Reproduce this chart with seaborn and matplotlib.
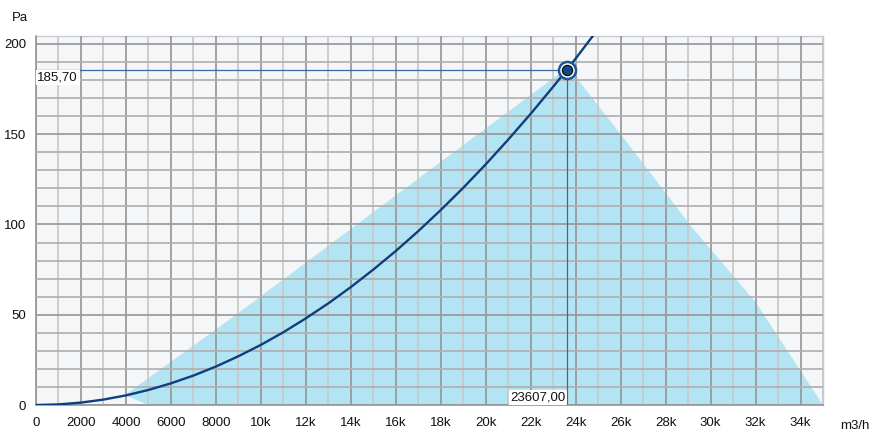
import matplotlib
matplotlib.use('Agg')
import matplotlib.pyplot as plt
from matplotlib.ticker import MultipleLocator, FixedLocator
import seaborn as sns
import pandas as pd

# system curve (m3/h, Pa)
flow = [0, 1000, 2000, 3000, 4000, 5000, 6000, 7000, 8000, 9000, 10000, 11000,
        12000, 13000, 14000, 15000, 16000, 17000, 18000, 19000, 20000, 21000,
        22000, 23000, 23607, 24000, 25000]
pressure = [0, 0.33, 1.33, 3.0, 5.33, 8.33, 12.0, 16.3, 21.3, 27.0, 33.3, 40.3,
            48.0, 56.3, 65.3, 75.0, 85.3, 96.3, 108.0, 120.3, 133.3, 147.0,
            161.3, 176.3, 185.7, 191.9, 208.3]

# operating range (light blue area)
range_flow = [5000, 3950, 8900, 16200, 23650, 24050, 26000, 29200, 32000, 35000]
range_pressure = [0, 5.5, 50, 118, 187, 181, 150, 98, 57, 0]

# working point
wp_flow = 23607.0
wp_pressure = 185.70

x_ticks = [0, 2000, 4000, 6000, 8000, 10000, 12000, 14000, 16000, 18000, 20000,
           22000, 24000, 26000, 28000, 30000, 32000, 34000]
x_labels = ['0', '2000', '4000', '6000', '8000', '10k', '12k', '14k', '16k', '18k',
            '20k', '22k', '24k', '26k', '28k', '30k', '32k', '34k']
y_ticks = [0, 50, 100, 150, 200]

sns.set_style('white')
plt.rcParams['font.family'] = ['Liberation Sans', 'DejaVu Sans']

fig = plt.figure(figsize=(8.71, 4.34), dpi=100)
ax = fig.add_axes([36 / 871, 1 - 405 / 434, (823 - 36) / 871, (405 - 36) / 434])
ax.set_facecolor('#f5f6f8')

ax.fill(range_flow, range_pressure, color='#b3e4f3', zorder=1, lw=0)

df = pd.DataFrame({'flow': flow, 'pressure': pressure})
sns.lineplot(data=df, x='flow', y='pressure', ax=ax, color='#0d3f7e',
             linewidth=1.7, zorder=4, sort=True)

# reference lines to the working point
ax.plot([0, wp_flow], [wp_pressure, wp_pressure], color='#3b679f', lw=0.9, zorder=3)
ax.plot([wp_flow, wp_flow], [0, wp_pressure], color='#3b679f', lw=0.9, zorder=3)

ax.scatter([wp_flow], [wp_pressure], s=150, facecolor='white',
           edgecolor='#1f5593', linewidth=1.8, zorder=5)
ax.scatter([wp_flow], [wp_pressure], s=55, facecolor='#0c4a8a',
           edgecolor='black', linewidth=0.8, zorder=6)

ax.annotate('185,70', xy=(0, wp_pressure), xytext=(1, -1), textcoords='offset points',
            ha='left', va='top', fontsize=9.5, color='#111111', zorder=7,
            bbox=dict(boxstyle='square,pad=0.12', fc='white', ec='none'))
ax.annotate('23607,00', xy=(wp_flow, 0), xytext=(-1, 1), textcoords='offset points',
            ha='right', va='bottom', fontsize=9.5, color='#111111', zorder=7,
            bbox=dict(boxstyle='square,pad=0.12', fc='white', ec='none'))

ax.set_xlim(0, 35000)
ax.set_ylim(0, 204.4)
ax.xaxis.set_major_locator(FixedLocator(x_ticks))
ax.set_xticklabels(x_labels)
ax.xaxis.set_minor_locator(MultipleLocator(1000))
ax.yaxis.set_major_locator(FixedLocator(y_ticks))
ax.yaxis.set_minor_locator(MultipleLocator(10))

ax.set_axisbelow(False)
ax.grid(True, axis='x', which='major', color='#979797', lw=1.25)
ax.grid(True, axis='x', which='minor', color='#c9c9c9', lw=1.25)
ax.grid(True, axis='y', which='major', color='#999999', lw=1.25)
ax.grid(True, axis='y', which='minor', color='#b0b0b0', lw=1.25)

ax.tick_params(axis='both', which='major', length=4, width=1, color='#999999',
               labelsize=9.5, labelcolor='#111111', pad=3)
ax.tick_params(axis='x', which='major', pad=5)
ax.tick_params(axis='both', which='minor', length=0)
ax.set_xlabel('')
ax.set_ylabel('')

for side in ['top', 'right']:
    ax.spines[side].set_color('#c4cbd3')
    ax.spines[side].set_linewidth(1)
for side in ['left', 'bottom']:
    ax.spines[side].set_color('#979797')
    ax.spines[side].set_linewidth(1.25)

fig.text(12 / 871, 1 - 18 / 434, 'Pa', ha='left', va='center', fontsize=9.5, color='#111111')
fig.text(840 / 871, 1 - 426 / 434, 'm3/h', ha='left', va='center', fontsize=9.5, color='#111111')

fig.savefig('out.png', dpi=100)
plt.close(fig)
